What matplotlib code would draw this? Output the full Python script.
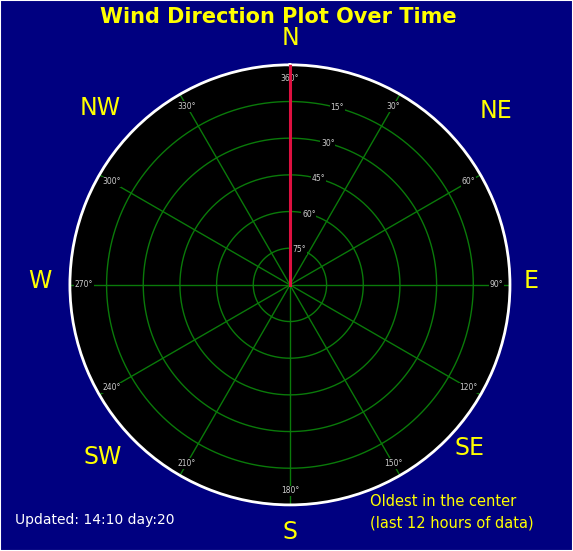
import numpy as np
import matplotlib
matplotlib.use("Agg")
import matplotlib.pyplot as plt

directions = [360]*12
ring_labels = ["75°", "60°", "45°", "30°", "15°"]
angle_labels = ["30°","60°","90°","120°","150°","180°","210°","240°","270°","300°","330°","360°"]
compass = ["N","NE","E","SE","S","SW","W","NW"]

fig = plt.figure(figsize=(5.73,5.51), dpi=100, facecolor="#000080")
ax = fig.add_axes([0.122,0.0835,0.768,0.799], projection="polar")
ax.set_facecolor("black")
ax.set_theta_zero_location("N"); ax.set_theta_direction(-1)
ax.set_ylim(0,6)
ax.grid(False); ax.set_xticks([]); ax.set_yticks([])
ax.spines["polar"].set_color("white"); ax.spines["polar"].set_linewidth(2)
g = "#0a7a0a"
th = np.linspace(0,2*np.pi,361)
for r in range(1,6):
    ax.plot(th,[r]*len(th),color=g,lw=1)
for a in range(0,360,30):
    ax.plot([np.radians(a)]*2,[0,6],color=g,lw=1)
for i,l in enumerate(ring_labels):
    ax.text(np.radians(15),i+1,l,color="#cccccc",fontsize=5.5,ha="center",va="center",
            bbox=dict(facecolor="black",edgecolor="none",pad=0.5))
for i,l in enumerate(angle_labels):
    a=(i+1)*30
    ax.text(np.radians(a),5.62,l,color="#cccccc",fontsize=5.5,ha="center",va="center",
            bbox=dict(facecolor="black",edgecolor="none",pad=0.5))
r = np.linspace(0,6,len(directions))
ax.plot(np.radians(directions),r,color="#dd1040",lw=2.2,zorder=5)

pos = {"N":(290,38),"NE":(496,111),"E":(531,281),"SE":(469,448),"S":(290,532),
       "SW":(103,457),"W":(40,281),"NW":(100,108)}
for c in compass:
    x,y=pos[c]
    fig.text(x/573,1-y/551,c,color="yellow",fontsize=17,ha="center",va="center")
fig.text(0.485,1-17/551,"Wind Direction Plot Over Time",color="yellow",fontsize=15,
         fontweight="heavy",ha="center",va="center")
fig.text(15/573,1-520/551,"Updated: 14:10 day:20",color="white",fontsize=10,va="center")
fig.text(370/573,1-512/551,"Oldest in the center\n(last 12 hours of data)",color="yellow",
         fontsize=10.5,va="center",linespacing=1.5)
fig.patches.append(plt.Rectangle((0,0),1,1,transform=fig.transFigure,fill=False,
                                 edgecolor="white",lw=1.5))
fig.savefig("out.png",dpi=100,facecolor=fig.get_facecolor())
